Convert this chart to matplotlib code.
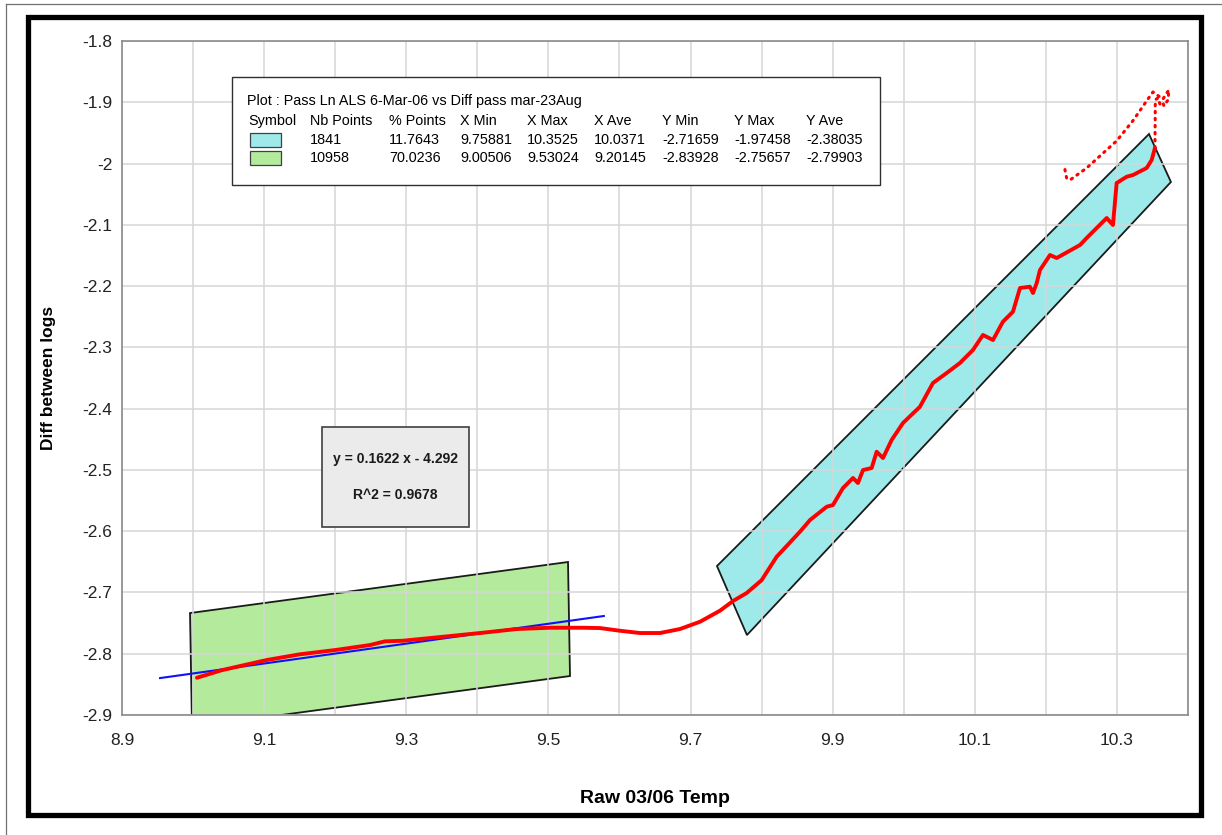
import matplotlib
matplotlib.use("Agg")
import matplotlib.pyplot as plt
from matplotlib.patches import Polygon, Rectangle
from matplotlib.lines import Line2D
import numpy as np

plt.rcParams['font.family'] = ['Liberation Sans', 'DejaVu Sans']

# ---- data -------------------------------------------------------------
temp_main = [9.0055, 9.040, 9.1036, 9.150, 9.2021, 9.249, 9.270, 9.2954, 9.3615,
             9.4080, 9.4554, 9.5022, 9.5487, 9.5726, 9.6007, 9.6289, 9.6570,
             9.6851, 9.7133, 9.7414, 9.7597, 9.7790, 9.8000, 9.8212, 9.8540,
             9.8681, 9.8916, 9.9004, 9.9145, 9.9286, 9.9356, 9.9427, 9.9549,
             9.9619, 9.9708, 9.9830, 9.9989, 10.0228, 10.0411, 10.0604, 10.0791,
             10.0974, 10.1115, 10.1256, 10.1396, 10.1537, 10.1636, 10.1776,
             10.1819, 10.1871, 10.1917, 10.2058, 10.2152, 10.2480, 10.2574,
             10.2856, 10.2944, 10.2996, 10.3137, 10.3226, 10.3418, 10.3489,
             10.3535]
diff_main = [-2.8392, -2.8270, -2.8103, -2.8010, -2.7937, -2.7858, -2.7798, -2.7788,
             -2.7712, -2.7657, -2.7597, -2.7576, -2.7576, -2.7581, -2.7625,
             -2.7662, -2.7662, -2.7597, -2.7478, -2.7298, -2.7140, -2.7009,
             -2.6800, -2.6417, -2.6009, -2.5818, -2.5601, -2.5573, -2.5296,
             -2.5132, -2.5214, -2.5002, -2.4969, -2.4703, -2.4806, -2.4512,
             -2.4235, -2.3969, -2.3582, -2.3419, -2.3255, -2.3043, -2.2798,
             -2.2880, -2.2581, -2.2418, -2.2031, -2.2010, -2.2113, -2.1950,
             -2.1738, -2.1493, -2.1542, -2.1330, -2.1215, -2.0889, -2.1003,
             -2.0318, -2.0215, -2.0187, -2.0073, -1.9942, -1.9746]

# sparse trailing readings (jump, loop and return branch)
temp_tail = [10.3535, 10.3540, 10.3577, 10.3605, 10.3647, 10.3661, 10.3718,
             10.3732, 10.3690, 10.3647, 10.3507, 10.3465, 10.3226,
             10.2996, 10.2574, 10.2339, 10.2292, 10.2269, 10.2269]
diff_tail = [-1.9746, -1.8960, -1.8930, -1.9028, -1.8996, -1.9061, -1.8963,
             -1.8800, -1.8865, -1.8950, -1.8832, -1.8900, -1.9300,
             -1.9630, -2.0073, -2.0269, -2.0236, -2.0105, -2.0040]

# linear fit over the lower zone
fit_slope, fit_intercept = 0.1622, -4.292
fit_r2 = 0.9678
fit_x_range = [8.9535, 9.578]

# selection zones
green_zone_x = [8.9957, 9.5276, 9.5304, 8.9985]
green_zone_y = [-2.7336, -2.6503, -2.8364, -2.9197]
cyan_zone_x = [9.7372, 10.3451, 10.3760, 9.7794]
cyan_zone_y = [-2.6569, -1.9518, -2.0301, -2.7695]

legend_title = "Plot : Pass Ln ALS 6-Mar-06 vs Diff pass mar-23Aug"
legend_header = ["Symbol", "Nb Points", "% Points", "X Min", "X Max", "X Ave",
                 "Y Min", "Y Max", "Y Ave"]
legend_rows = [
    ["1841", "11.7643", "9.75881", "10.3525", "10.0371", "-2.71659", "-1.97458", "-2.38035"],
    ["10958", "70.0236", "9.00506", "9.53024", "9.20145", "-2.83928", "-2.75657", "-2.79903"],
]
legend_colors = ["#9eeaea", "#b3ea9b"]

x_ticks = [8.9, 9.1, 9.3, 9.5, 9.7, 9.9, 10.1, 10.3]
x_tick_labels = ["8.9", "9.1", "9.3", "9.5", "9.7", "9.9", "10.1", "10.3"]
y_ticks = [-1.8, -1.9, -2.0, -2.1, -2.2, -2.3, -2.4, -2.5, -2.6, -2.7, -2.8, -2.9]
y_tick_labels = ["-1.8", "-1.9", "-2", "-2.1", "-2.2", "-2.3", "-2.4", "-2.5",
                 "-2.6", "-2.7", "-2.8", "-2.9"]

# ---- figure -----------------------------------------------------------
W, H = 1222, 835
fig = plt.figure(figsize=(W / 100, H / 100), dpi=100)
fig.patch.set_facecolor("white")

def fx(px):
    return px / W

def fy(py):
    return 1 - py / H

ax = fig.add_axes([fx(122), fy(715), fx(1188) - fx(122), fy(41) - fy(715)])
ax.set_xlim(8.9, 10.4)
ax.set_ylim(-2.9, -1.8)

ax.set_xticks(np.arange(8.9, 10.41, 0.1), minor=True)
ax.set_xticks(x_ticks)
ax.set_xticklabels(x_tick_labels)
ax.set_yticks(y_ticks)
ax.set_yticklabels(y_tick_labels)
ax.set_axisbelow(True)
ax.grid(True, which="both", color="#d6d6d6", linewidth=1.1)
ax.tick_params(which="both", length=0)
ax.tick_params(axis="x", pad=13, labelsize=12.5, colors="#222222")
ax.tick_params(axis="y", pad=7, labelsize=12.5, colors="#222222")
for s in ax.spines.values():
    s.set_color("#8a8a8a")
    s.set_linewidth(1.2)

ax.set_xlabel("Raw 03/06 Temp", fontsize=14, fontweight="bold", labelpad=30)
ax.set_ylabel("Diff between logs", fontsize=12.5, fontweight="bold", labelpad=19)

# zones
ax.add_patch(Polygon(np.column_stack([green_zone_x, green_zone_y]), closed=True,
                     facecolor=legend_colors[1], edgecolor="#1a1a1a",
                     linewidth=1.3, zorder=0.3))
ax.add_patch(Polygon(np.column_stack([cyan_zone_x, cyan_zone_y]), closed=True,
                     facecolor=legend_colors[0], edgecolor="#1a1a1a",
                     linewidth=1.3, zorder=0.3))

# regression line
fx_line = np.array(fit_x_range)
ax.plot(fx_line, fit_slope * fx_line + fit_intercept, color="#1010ff",
        linewidth=1.5, zorder=3)

# data trace
ax.plot(temp_main, diff_main, color="#ff0000", linewidth=2.8,
        solid_capstyle="round", solid_joinstyle="round", zorder=4)
ax.plot(temp_tail, diff_tail, color="#ff0000", linewidth=2.2,
        linestyle=(0, (0.5, 1.8)), dash_capstyle="round", zorder=4)

# legend table
def axx(px):
    return (px - 122) / 1066

def axy(py):
    return 1 - (py - 41) / 674

ax.add_patch(Rectangle((axx(232), axy(185)), axx(880) - axx(232), axy(77) - axy(185),
                       transform=ax.transAxes, facecolor="white",
                       edgecolor="#303030", linewidth=1.0, zorder=5))
lfs = 10.4
ax.text(axx(247), axy(101), legend_title, transform=ax.transAxes, fontsize=lfs,
        va="center", ha="left", zorder=6)
col_x = [248, 310, 389, 460, 527, 594, 662, 734, 806]
for cx, h in zip(col_x, legend_header):
    ax.text(axx(cx), axy(121), h, transform=ax.transAxes, fontsize=lfs,
            va="center", ha="left", zorder=6)
row_y = [140, 158]
for ry, row, col in zip(row_y, legend_rows, legend_colors):
    ax.add_patch(Rectangle((axx(250), axy(ry + 7)), axx(281) - axx(250), axy(ry - 7) - axy(ry + 7),
                           transform=ax.transAxes, facecolor=col,
                           edgecolor="#404040", linewidth=0.9, zorder=6))
    for cx, v in zip(col_x[1:], row):
        ax.text(axx(cx), axy(ry), v, transform=ax.transAxes, fontsize=lfs,
                va="center", ha="left", zorder=6)

# fit annotation box
ax.add_patch(Rectangle((axx(322), axy(527)), axx(469) - axx(322), axy(427) - axy(527),
                       transform=ax.transAxes, facecolor="#ebebeb",
                       edgecolor="#404040", linewidth=1.2, zorder=5))
ax.text(axx(395.5), axy(459), f"y = {fit_slope} x - {abs(fit_intercept)}",
        transform=ax.transAxes, fontsize=10, fontweight="bold",
        ha="center", va="center", zorder=6, color="#1a1a1a")
ax.text(axx(395.5), axy(495), f"R^2 = {fit_r2}",
        transform=ax.transAxes, fontsize=10, fontweight="bold",
        ha="center", va="center", zorder=6, color="#1a1a1a")

# outer frames
fig.add_artist(Rectangle((fx(27.5), fy(814.5)), fx(1200.5) - fx(27.5), fy(16.5) - fy(814.5),
                         transform=fig.transFigure, fill=False,
                         edgecolor="black", linewidth=3.8))
fig.add_artist(Line2D([fx(5.5), fx(5.5)], [0, fy(3.5)], transform=fig.transFigure,
                      color="#707070", linewidth=0.9))
fig.add_artist(Line2D([fx(5.5), 1], [fy(3.5), fy(3.5)], transform=fig.transFigure,
                      color="#707070", linewidth=0.9))

fig.savefig("out.png", dpi=100)
